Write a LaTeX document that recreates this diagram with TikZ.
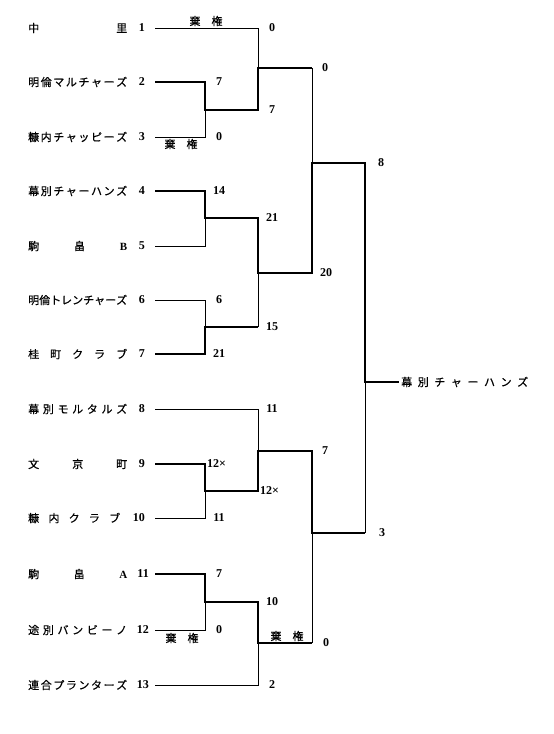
\documentclass[tikz,border=0pt]{standalone}
\usepackage{fontspec}
\setmainfont{Liberation Serif}
\newfontfamily\jp{Noto Sans CJK JP}[FakeBold=0.5]
\begin{document}
\begin{tikzpicture}[x=1pt,y=-1pt,
  lose/.style={line width=1pt},
  win/.style={line width=2.4pt},
  team/.style={anchor=west,inner sep=0pt,font=\jp\fontsize{11pt}{12pt}\selectfont},
  num/.style={anchor=east,inner sep=0pt,font=\bfseries\fontsize{12pt}{13pt}\selectfont},
  score/.style={inner sep=0pt,font=\bfseries\fontsize{12pt}{13pt}\selectfont},
  forfeit/.style={inner sep=0pt,font=\jp\fontsize{11pt}{12pt}\selectfont}]
\useasboundingbox (0,0) rectangle (554,734);

% team names
\node[team] (n1)  at (28,28)  {\hbox to 99pt{中\hfill 里}};
\node[team] (n2)  at (28,82)  {\hbox to 99pt{明\hfill 倫\hfill マ\hfill ル\hfill チ\hfill ャ\hfill ー\hfill ズ}};
\node[team] (n3)  at (28,137) {\hbox to 99pt{糠\hfill 内\hfill チ\hfill ャ\hfill ッ\hfill ピ\hfill ー\hfill ズ}};
\node[team] (n4)  at (28,191) {\hbox to 99pt{幕\hfill 別\hfill チ\hfill ャ\hfill ー\hfill ハ\hfill ン\hfill ズ}};
\node[team] (n5)  at (28,246) {\hbox to 99pt{駒\hfill 畠\hfill {\rmfamily\bfseries B}}};
\node[team] (n6)  at (28,300) {\hbox to 99pt{明\hfill 倫\hfill ト\hfill レ\hfill ン\hfill チ\hfill ャ\hfill ー\hfill ズ}};
\node[team] (n7)  at (28,354) {\hbox to 99pt{桂\hfill 町\hfill ク\hfill ラ\hfill ブ}};
\node[team] (n8)  at (28,409) {\hbox to 99pt{幕\hfill 別\hfill モ\hfill ル\hfill タ\hfill ル\hfill ズ}};
\node[team] (n9)  at (28,464) {\hbox to 99pt{文\hfill 京\hfill 町}};
\node[team] (n10) at (28,518) {\hbox to 92pt{糠\hfill 内\hfill ク\hfill ラ\hfill ブ}};
\node[team] (n11) at (28,574) {\hbox to 99pt{駒\hfill 畠\hfill {\rmfamily\bfseries A}}};
\node[team] (n12) at (28,630) {\hbox to 99pt{途\hfill 別\hfill バ\hfill ン\hfill ビ\hfill ー\hfill ノ}};
\node[team] (n13) at (28,685) {\hbox to 99pt{連\hfill 合\hfill プ\hfill ラ\hfill ン\hfill タ\hfill ー\hfill ズ}};

% team numbers
\node[num] (k1)  at (145,28)  {1};
\node[num] (k2)  at (145,82)  {2};
\node[num] (k3)  at (145,137) {3};
\node[num] (k4)  at (145,191) {4};
\node[num] (k5)  at (145,246) {5};
\node[num] (k6)  at (145,300) {6};
\node[num] (k7)  at (145,354) {7};
\node[num] (k8)  at (145,409) {8};
\node[num] (k9)  at (145,464) {9};
\node[num] (k10) at (145,518) {10};
\node[num] (k11) at (149,574) {11};
\node[num] (k12) at (149,630) {12};
\node[num] (k13) at (149,685) {13};

% line starts
\coordinate (s1) at (155,28);
\coordinate (s2) at (155,82);
\coordinate (s3) at (155,137);
\coordinate (s4) at (155,191);
\coordinate (s5) at (155,246);
\coordinate (s6) at (155,300);
\coordinate (s7) at (155,354);
\coordinate (s8) at (155,409);
\coordinate (s9) at (155,464);
\coordinate (s10) at (155,518);
\coordinate (s11) at (155,574);
\coordinate (s12) at (155,630);
\coordinate (s13) at (155,685);

% junctions
\coordinate (j23) at (205,110);
\coordinate (j45) at (205,218);
\coordinate (j67) at (205,327);
\coordinate (j910) at (205,491);
\coordinate (j1112) at (205,602);
\coordinate (J13) at (258,68);
\coordinate (J47) at (258,273);
\coordinate (e67) at (258,327);
\coordinate (J810) at (258,451);
\coordinate (J1113) at (258,643);
\coordinate (e13) at (312,68);
\coordinate (K17) at (312,163);
\coordinate (K813) at (312,533);
\coordinate (e1113) at (312,643);
\coordinate (e813) at (365,533);
\coordinate (F) at (365,382);
\coordinate (W) at (399,382);

% thin (losing) lines
\draw[lose] (s1) -| (J13);
\draw[lose] (s3) -| (j23);
\draw[lose] (e13) -- (K17);
\draw[lose] (s5) -| (j45);
\draw[lose] (s6) -| (j67);
\draw[lose] (e67) -- (J47);
\draw[lose] (s8) -| (J810);
\draw[lose] (s10) -| (j910);
\draw[lose] (s12) -| (j1112);
\draw[lose] (s13) -| (J1113);
\draw[lose] (e1113) -- (K813);
\draw[lose] (e813) -- (F);

% thick (winning) lines
\draw[win] (s2) -| (j23) -| (J13) -- (e13);
\draw[win] (s4) -| (j45) -| (J47) -| (K17) -| (F) -- (W);
\draw[win] (s7) -| (j67) -- (e67);
\draw[win] (s9) -| (j910) -| (J810) -| (K813) -- (e813);
\draw[win] (s11) -| (j1112) -| (J1113) -- (e1113);

% forfeits
\node[forfeit] (f1)  at (206,21)  {\hbox to 33pt{棄\hfill 権}};
\node[forfeit] (f3)  at (181,144) {\hbox to 33pt{棄\hfill 権}};
\node[forfeit] (f12) at (182,638) {\hbox to 33pt{棄\hfill 権}};
\node[forfeit] (f13) at (287,636) {\hbox to 33pt{棄\hfill 権}};

% round 1 scores
\node[score] (a2)  at (219,82)  {7};
\node[score] (a3)  at (219,137) {0};
\node[score] (a4)  at (219,191) {14};
\node[score] (a6)  at (219,300) {6};
\node[score] (a7)  at (219,354) {21};
\node[score,anchor=west] (a9) at (207,464) {12×};
\node[score] (a10) at (219,518) {11};
\node[score] (a11) at (219,574) {7};
\node[score] (a12) at (219,630) {0};

% round 2 scores
\node[score] (b1)  at (272,28)  {0};
\node[score] (b23) at (272,110) {7};
\node[score] (b45) at (272,218) {21};
\node[score] (b67) at (272,327) {15};
\node[score] (b8)  at (272,409) {11};
\node[score,anchor=west] (b910) at (260,491) {12×};
\node[score] (b1112) at (272,602) {10};
\node[score] (b13) at (272,685) {2};

% round 3 scores
\node[score] (c13)  at (325,68)  {0};
\node[score] (c47)  at (326,273) {20};
\node[score] (c810) at (325,451) {7};
\node[score] (c1113) at (326,643) {0};

% final scores
\node[score] (d17)  at (381,163) {8};
\node[score] (d813) at (382,533) {3};

% champion
\node[team] (champ) at (401,382) {\hbox to 127pt{幕\hfill 別\hfill チ\hfill ャ\hfill ー\hfill ハ\hfill ン\hfill ズ}};
\end{tikzpicture}
\end{document}
